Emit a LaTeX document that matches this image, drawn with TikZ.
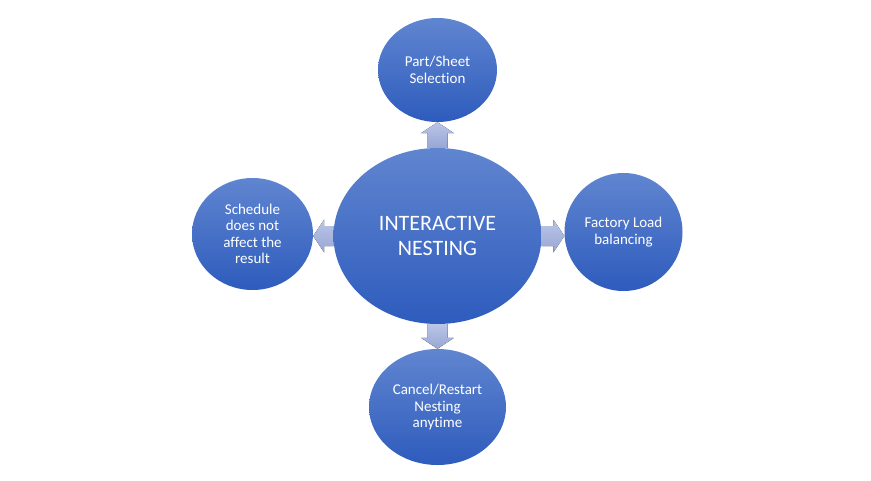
\documentclass[tikz,border=0pt]{standalone}
\usepackage{fontspec}
\setmainfont{Carlito}[Ligatures=NoCommon]
\usetikzlibrary{shapes.geometric,calc}
\definecolor{bubtop}{RGB}{96,133,208}
\definecolor{bubbot}{RGB}{46,92,189}
\definecolor{arrtop}{RGB}{186,197,231}
\definecolor{arrbot}{RGB}{152,166,212}
\begin{document}
\begin{tikzpicture}[x=1pt,y=-1pt,
  bubble/.style={ellipse, inner sep=0pt, top color=bubtop, bottom color=bubbot,
    draw=none, text=white, align=center, font=\fontsize{15}{16.5}\selectfont},
  hub/.style={bubble, font=\fontsize{22}{25}\selectfont},
  blockarrow/.style={top color=arrtop, bottom color=arrbot, draw=none,
    to path={
      ($(\tikztostart)!10pt!90:(\tikztotarget)$)
      -- ($(\tikztotarget)!11pt!(\tikztostart)!10pt!90:(\tikztotarget)$)
      -- ($(\tikztotarget)!11pt!(\tikztostart)!16.5pt!90:(\tikztotarget)$)
      -- (\tikztotarget)
      -- ($(\tikztotarget)!11pt!(\tikztostart)!16.5pt!-90:(\tikztotarget)$)
      -- ($(\tikztotarget)!11pt!(\tikztostart)!10pt!-90:(\tikztotarget)$)
      -- ($(\tikztostart)!10pt!-90:(\tikztotarget)$)
      -- cycle}},
]
\useasboundingbox (0,0) rectangle (871,480);
\node[hub, minimum width=208pt, minimum height=176pt] (c) at (437.5,236) {INTERACTIVE\\NESTING};
\node[bubble, minimum width=119pt, minimum height=104pt] (t) at (437.5,70) {Part/Sheet\\Selection};
\node[bubble, minimum width=118pt, minimum height=118pt] (r) at (623.5,232) {Factory Load\\balancing};
\node[bubble, minimum width=121pt, minimum height=112pt] (l) at (252.5,234) {Schedule\\does not\\affect the\\result};
\node[bubble, minimum width=137pt, minimum height=116pt] (b) at (437.5,407) {Cancel/Restart\\Nesting\\anytime};
\coordinate (rt) at (c.east -| r.west);
\coordinate (lt) at (c.west -| l.east);
\fill[blockarrow] (c.north) to (t.south);
\fill[blockarrow] (c.south) to (b.north);
\fill[blockarrow] (c.east) to (rt);
\fill[blockarrow] (c.west) to (lt);
\end{tikzpicture}
\end{document}
